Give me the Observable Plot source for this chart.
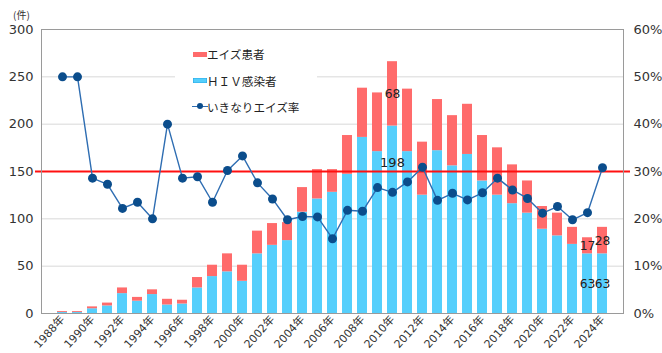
<!DOCTYPE html>
<html lang="ja">
<head>
<meta charset="utf-8">
<script src="https://cdn.jsdelivr.net/npm/d3@7"></script>
<script src="https://cdn.jsdelivr.net/npm/@observablehq/plot@0.6"></script>
<style>
  html, body { margin: 0; padding: 0; background: #fff; }
  #chart { position: relative; width: 662px; height: 353px; overflow: hidden; }
  #chart svg { position: absolute; left: 0; top: 0; }
  .unit { position: absolute; left: 13px; top: 8px; font-family: "Noto Sans CJK JP", sans-serif; font-size: 10px; line-height: 14px; color: #333; }
  .legend { position: absolute; left: 175px; top: 38px; width: 142px; height: 80px; background: #fff;
            font-family: "Noto Sans CJK JP", sans-serif; font-size: 11.6px; color: #222; }
  .legend .txt { position: absolute; left: 32px; height: 16px; line-height: 16px; white-space: nowrap; }
  .legend .sw { position: absolute; left: 18px; width: 14px; height: 5px; }
  .legend .ln { position: absolute; left: 17px; width: 16px; height: 1.5px; }
  .legend .dt { position: absolute; left: 22px; width: 6px; height: 6px; border-radius: 50%; }
</style>
</head>
<body>
<div id="chart"></div>
<script>
// Reported cases per year and the share first diagnosed as AIDS (いきなりエイズ率)
const years = [1988, 1989, 1990, 1991, 1992, 1993, 1994, 1995, 1996, 1997, 1998, 1999,
               2000, 2001, 2002, 2003, 2004, 2005, 2006, 2007, 2008, 2009, 2010, 2011,
               2012, 2013, 2014, 2015, 2016, 2017, 2018, 2019, 2020, 2021, 2022, 2023, 2024];
const hivCases  = [1, 1, 5, 8, 21, 13, 20, 9, 10, 27, 39, 44,
                   34, 63, 72, 77, 107, 121, 128, 147, 186, 171, 198, 171,
                   125, 172, 156, 168, 140, 125, 116, 106, 89, 82, 73, 63, 63];
const aidsCases = [1, 1, 2, 3, 6, 4, 5, 6, 4, 11, 12, 19,
                   17, 24, 23, 19, 26, 31, 24, 41, 52, 62, 68, 66,
                   56, 54, 53, 53, 48, 50, 41, 34, 24, 24, 18, 17, 28];
const lateRate  = [50.0, 50.0, 28.6, 27.3, 22.2, 23.5, 20.0, 40.0, 28.6, 28.9, 23.5, 30.2,
                   33.3, 27.6, 24.2, 19.8, 20.5, 20.4, 15.8, 21.8, 21.6, 26.6, 25.6, 27.8,
                   30.9, 23.9, 25.4, 24.0, 25.5, 28.6, 26.1, 24.3, 21.2, 22.6, 19.8, 21.3, 30.8];

const countTicks = [0, 50, 100, 150, 200, 250, 300];
const rateTicks = [0, 10, 20, 30, 40, 50, 60];
const rateReference = 30;            // 30% reference line
const labelYears = [2010, 2023, 2024];
const seriesNames = ["ＨＩＶ感染者", "エイズ患者"];
const seriesColors = ["#55cffc", "#ff6b6b"];
const rateName = "いきなりエイズ率";

// right axis: 60% sits level with 300 cases on the left
const countPerPercent = countTicks[countTicks.length - 1] / rateTicks[rateTicks.length - 1];

const rows = years.flatMap((year, i) => [
  {year, type: seriesNames[0], value: hivCases[i]},
  {year, type: seriesNames[1], value: aidsCases[i]}
]);
const rates = years.map((year, i) => ({year, rate: lateRate[i]}));
const labelRows = rows.filter(d => labelYears.includes(d.year));
const raised = d => d.year === 2010 && d.type === seriesNames[0];
const rateY = d => d.rate * countPerPercent;

const numFont = '"DejaVu Sans", "Noto Sans CJK JP", sans-serif';

const plot = Plot.plot({
  width: 662,
  height: 353,
  marginLeft: 41,
  marginRight: 39,
  marginTop: 29,
  marginBottom: 40,
  style: {fontFamily: numFont, fontSize: "12.5px", color: "#333", background: "transparent"},
  x: {type: "band", domain: years, paddingInner: 0.36, paddingOuter: 0.18},
  y: {domain: [countTicks[0], countTicks[countTicks.length - 1]]},
  color: {domain: seriesNames, range: seriesColors},
  marks: [
    Plot.gridY(countTicks.slice(1, -1), {stroke: "#d8d8d8", strokeOpacity: 1}),
    Plot.barY(rows, {x: "year", y: "value", fill: "type"}),
    Plot.ruleY([rateReference * countPerPercent], {stroke: "#ff1010", strokeWidth: 2, insetLeft: -6, insetRight: -7}),
    Plot.line(rates, {x: "year", y: rateY, stroke: "#2e6db2", strokeWidth: 1.4}),
    Plot.dot(rates, {x: "year", y: rateY, r: 4.5, fill: "#0b4d8c", stroke: "none"}),
    Plot.text(labelRows, Plot.stackY({x: "year", y: "value", text: d => raised(d) ? null : d.value,
      fontSize: 12.3, fill: "#222"})),
    Plot.text(labelRows, Plot.stackY({x: "year", y: "value", text: d => raised(d) ? d.value : null,
      dy: -57, fontSize: 13, fill: "#222"})),
    Plot.frame({stroke: "#9a9a9a"}),
    Plot.axisY(countTicks, {anchor: "left", tickSize: 0, tickPadding: 8, label: null, fontSize: 13}),
    Plot.axisY(rateTicks.map(r => r * countPerPercent), {anchor: "right", tickSize: 0, tickPadding: 10,
      tickFormat: d => d / countPerPercent + "%", label: null, fontSize: 13}),
    Plot.axisX(years.filter(y => y % 2 === 0), {tickSize: 0, tickPadding: 4, tickRotate: -48,
      tickFormat: d => d + "年", label: null, fontSize: 11})
  ]
});

const chart = document.getElementById("chart");
chart.appendChild(plot);

const unit = document.createElement("div");
unit.className = "unit";
unit.textContent = "(件)";
chart.appendChild(unit);

// legend box drawn over the upper-left plot area
const legend = document.createElement("div");
legend.className = "legend";
legend.innerHTML = `
  <div class="sw" style="top:14px;background:${seriesColors[1]}"></div>
  <div class="txt" style="top:8px">${seriesNames[1]}</div>
  <div class="sw" style="top:40px;background:${seriesColors[0]};box-shadow:inset 0 0 0 0.6px #2aa9e6"></div>
  <div class="txt" style="top:35px">${seriesNames[0]}</div>
  <div class="ln" style="top:67.5px;background:#2e6db2"></div>
  <div class="dt" style="top:65px;background:#0b4d8c"></div>
  <div class="txt" style="top:61px">${rateName}</div>`;
chart.appendChild(legend);
</script>
</body>
</html>
